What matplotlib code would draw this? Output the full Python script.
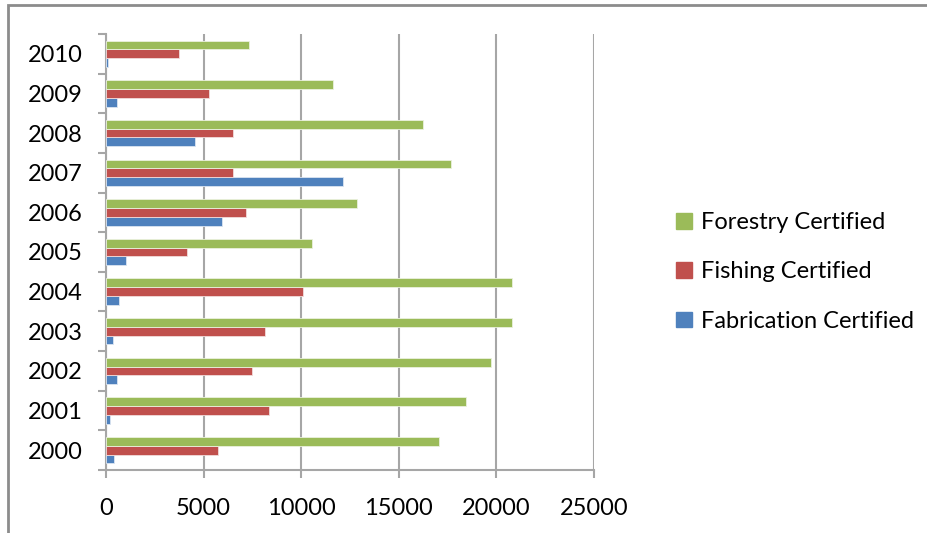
import numpy as np
import matplotlib.pyplot as plt
from matplotlib.patches import Rectangle, Patch

years = ['2000', '2001', '2002', '2003', '2004', '2005', '2006', '2007', '2008', '2009', '2010']
forestry = [17080, 18420, 19720, 20780, 20780, 10550, 12870, 17680, 16220, 11620, 7330]
fishing = [5760, 8330, 7470, 8120, 10090, 4160, 7150, 6490, 6490, 5290, 3720]
fabrication = [430, 220, 550, 340, 690, 1010, 5960, 12150, 4570, 550, 90]

green = '#9bbb59'
red = '#c0504d'
blue = '#4f81bd'
grid_c = '#a6a6a6'

plt.rcParams['font.family'] = ['Liberation Sans Narrow', 'Lato', 'DejaVu Sans']

fig = plt.figure(figsize=(9.28, 5.33), dpi=100)
# outer frame like the spreadsheet chart area
fig.patches.append(Rectangle((8/928, -0.2), 1.2, 1.2 - 5/533, transform=fig.transFigure,
                             fill=False, edgecolor='#8c8c8c', linewidth=2))

ax = fig.add_axes([106/928, 1 - 470/533, (594 - 106)/928, (470 - 34)/533])

y = np.arange(len(years))
h = 0.222
ax.barh(y - h, fabrication, height=h, color=blue, edgecolor='#dbe5f1', linewidth=0.6, zorder=3)
ax.barh(y, fishing, height=h, color=red, edgecolor='#f2dcdb', linewidth=0.6, zorder=3)
ax.barh(y + h, forestry, height=h, color=green, edgecolor='#ebf1de', linewidth=0.6, zorder=3)

ax.set_xlim(0, 25000)
ax.set_ylim(-0.5, len(years) - 0.5)
ax.set_xticks(np.arange(0, 25001, 5000))
ax.set_yticks(y)
ax.set_yticklabels(years)
ax.set_yticks(np.arange(-0.5, len(years), 1), minor=True)

ax.grid(axis='x', color=grid_c, linewidth=1.5, zorder=0)
for s in ['top', 'right']:
    ax.spines[s].set_visible(False)
ax.spines['left'].set_color(grid_c)
ax.spines['bottom'].set_color(grid_c)
ax.spines['left'].set_linewidth(1.5)
ax.spines['bottom'].set_linewidth(1.5)

ax.tick_params(axis='y', which='major', length=0, pad=17, labelsize=17)
ax.tick_params(axis='y', which='minor', length=6, width=1.5, color=grid_c)
ax.tick_params(axis='x', length=6, width=1.5, color=grid_c, pad=14, labelsize=17)

handles = [Patch(color=green, label='Forestry Certified'),
           Patch(color=red, label='Fishing Certified'),
           Patch(color=blue, label='Fabrication Certified')]
fig.legend(handles=handles, loc='center left', bbox_to_anchor=(655/928, 1 - 272/533),
           frameon=False, fontsize=17, handlelength=0.65, handleheight=0.65,
           handletextpad=0.4, labelspacing=1.2)

fig.savefig('out.png', dpi=100)
